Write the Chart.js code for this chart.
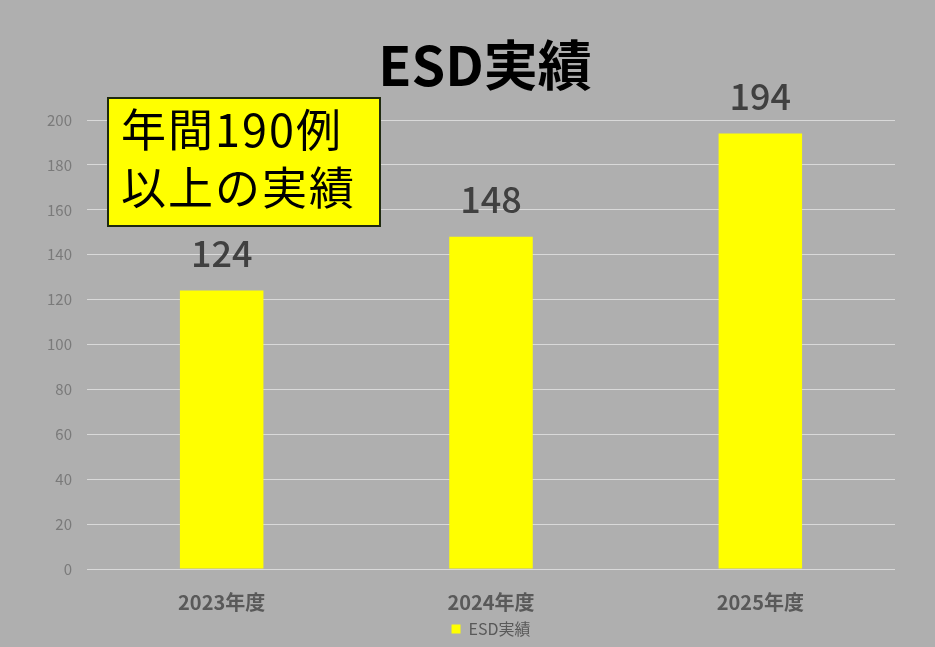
<!DOCTYPE html>
<html>
<head>
<meta charset="utf-8">
<script src="https://cdn.jsdelivr.net/npm/chart.js@4.4.0/dist/chart.umd.min.js"></script>
<style>
  html, body { margin:0; padding:0; background:#AFAFAF; }
  #wrap { position:relative; width:935px; height:647px; background:#AFAFAF; }
  #note {
    position:absolute; left:107px; top:97px; width:274px; height:130px;
    background:#FFFF00; border:2px solid #1f2a10;
    font-family:"Noto Sans CJK JP", sans-serif; font-size:45px; line-height:58px;
    letter-spacing:2px;
    color:#000; padding:0 0 0 12px; box-sizing:border-box; white-space:nowrap;
  }
</style>
</head>
<body>
<div id="wrap">
  <canvas id="c"></canvas>
  <div id="note">年間190例<br>以上の実績</div>
</div>
<script>
const categories = ["2023年度", "2024年度", "2025年度"];
const esdValues = [124, 148, 194];
const seriesName = "ESD実績";
const chartTitle = "ESD実績";
const yTicks = [0, 20, 40, 60, 80, 100, 120, 140, 160, 180, 200];

const FONT = '"Noto Sans CJK JP", "Noto Sans", sans-serif';

const valueLabels = {
  id: 'valueLabels',
  afterDatasetsDraw(chart) {
    const ctx = chart.ctx;
    const meta = chart.getDatasetMeta(0);
    ctx.save();
    ctx.font = '500 36px ' + FONT;
    ctx.fillStyle = '#404040';
    ctx.textAlign = 'center';
    ctx.textBaseline = 'bottom';
    meta.data.forEach((bar, i) => {
      ctx.fillText(String(chart.data.datasets[0].data[i]), bar.x, bar.y - 19);
    });
    ctx.restore();
  }
};

const topTitle = {
  id: 'topTitle',
  afterDraw(chart) {
    const ctx = chart.ctx;
    const a = chart.chartArea;
    ctx.save();
    ctx.font = 'bold 54px ' + FONT;
    ctx.fillStyle = '#000';
    ctx.textAlign = 'center';
    ctx.textBaseline = 'middle';
    ctx.fillText(chartTitle, (a.left + a.right) / 2 - 6, a.top - 55);
    ctx.restore();
  }
};

new Chart(document.getElementById('c'), {
  type: 'bar',
  data: {
    labels: categories,
    datasets: [{
      label: seriesName,
      data: esdValues,
      backgroundColor: '#FFFF00',
      borderWidth: 0,
      categoryPercentage: 1.0,
      barPercentage: 0.31
    }]
  },
  options: {
    responsive: true,
    maintainAspectRatio: false,
    animation: false,
    layout: { padding: { left: 47, right: 40, top: 120, bottom: 0 } },
    plugins: {
      title: { display: false },
      legend: {
        position: 'bottom',
        fullSize: false,
        labels: {
          color: '#595959',
          font: { family: FONT, size: 16 },
          boxWidth: 9, boxHeight: 9,
          padding: 4
        }
      },
      tooltip: { enabled: false }
    },
    scales: {
      x: {
        grid: { display: false, drawTicks: false },
        border: { display: false },
        afterFit(axis) { axis.height = 48; },
        ticks: {
          color: '#595959',
          font: { family: FONT, size: 20, weight: 'bold' },
          padding: 21
        }
      },
      y: {
        min: 0, max: 200,
        afterBuildTicks(axis) { axis.ticks = yTicks.map(v => ({ value: v })); },
        afterFit(axis) { axis.width = 40; },
        grid: { color: '#D9D9D9', drawTicks: false, lineWidth: 1 },
        border: { display: false },
        ticks: {
          color: '#7a7a7a',
          font: { family: FONT, size: 15 },
          padding: 15
        }
      }
    }
  },
  plugins: [valueLabels, topTitle]
});
</script>
</body>
</html>
